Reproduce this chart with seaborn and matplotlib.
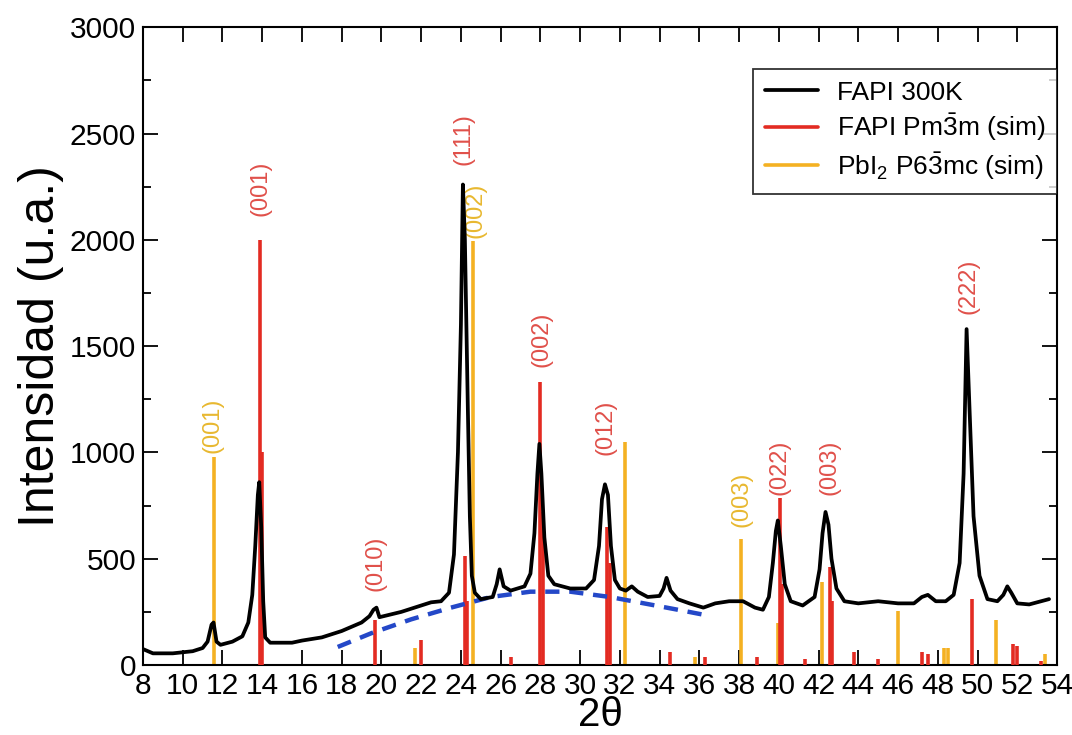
import numpy as np
import pandas as pd
import matplotlib
matplotlib.use("Agg")
import matplotlib.pyplot as plt
import seaborn as sns
from matplotlib.lines import Line2D
from matplotlib.ticker import MultipleLocator

# measured pattern FAPI 300K (2theta, intensity)
exp_2theta = [8.0, 8.5, 9.5, 10.5, 11.0, 11.25, 11.45, 11.55, 11.7, 11.9, 12.5, 13.0, 13.3, 13.5,
              13.65, 13.78, 13.85, 13.95, 14.05, 14.15, 14.4, 15.5, 16.0, 17.0, 18.0, 19.0,
              19.4, 19.6, 19.75, 19.9, 21.0, 22.0, 22.5, 23.0, 23.4, 23.65, 23.85, 24.0, 24.1,
              24.2, 24.35, 24.45, 24.55, 24.7, 25.0, 25.6, 25.8, 25.95, 26.15, 26.5, 27.2,
              27.5, 27.7, 27.85, 27.95, 28.05, 28.2, 28.4, 28.7, 29.5, 30.3, 30.7, 30.95,
              31.1, 31.25, 31.4, 31.55, 31.75, 32.0, 32.3, 32.6, 32.9, 33.4, 34.0, 34.2,
              34.35, 34.55, 34.9, 35.5, 36.2, 36.8, 37.5, 38.2, 38.8, 39.2, 39.5, 39.7,
              39.85, 39.95, 40.1, 40.3, 40.6, 41.2, 41.8, 42.05, 42.2, 42.35, 42.5, 42.65,
              42.9, 43.3, 44.0, 45.0, 46.0, 46.8, 47.2, 47.5, 47.9, 48.4, 48.8, 49.1, 49.3,
              49.45, 49.6, 49.8, 50.1, 50.5, 51.0, 51.3, 51.5, 51.7, 52.0, 52.6, 53.2, 53.6]
exp_intensity = [75, 55, 55, 65, 80, 110, 190, 200, 110, 95, 110, 135, 200, 330,
                 560, 800, 860, 650, 300, 130, 105, 105, 115, 130, 160, 200,
                 230, 260, 270, 225, 250, 280, 295, 300, 340, 520, 1000, 1600, 2260,
                 2000, 1200, 700, 420, 340, 310, 320, 380, 450, 370, 350, 370,
                 430, 620, 900, 1040, 900, 600, 420, 380, 360, 360, 400, 560,
                 780, 850, 800, 560, 400, 360, 350, 370, 345, 320, 325, 360,
                 410, 350, 310, 290, 270, 290, 300, 300, 270, 260, 320, 480,
                 630, 680, 560, 380, 300, 280, 320, 450, 620, 720, 660, 500,
                 360, 300, 290, 300, 290, 290, 320, 330, 300, 300, 330, 480, 900,
                 1580, 1200, 700, 420, 310, 300, 330, 370, 340, 290, 285, 300, 310]

# amorphous background guide (blue dashed)
bg_2theta = [17.8, 19.5, 21.5, 23.5, 25.5, 27.5, 29.5, 31.5, 33.5, 35.2, 36.3]
bg_intensity = [85, 150, 215, 270, 320, 345, 345, 320, 285, 255, 235]

# simulated FAPI Pm-3m sticks
fapi_pos = [13.9, 14.0, 19.7, 22.0, 24.2, 24.3, 26.5, 28.0, 28.15, 31.35, 31.5, 34.5, 36.3,
            38.9, 40.05, 40.15, 41.3, 42.6, 42.7, 43.8, 45.0, 47.2, 47.5, 49.7, 51.8, 52.0, 53.2]
fapi_int = [2000, 1000, 210, 120, 515, 300, 40, 1330, 720, 650, 480, 60, 40,
            40, 785, 380, 30, 460, 300, 60, 30, 60, 50, 310, 100, 90, 20]

# simulated PbI2 P63mc sticks
pbi2_pos = [11.55, 21.7, 24.6, 32.25, 35.8, 38.1, 39.95, 42.15, 46.0, 48.3, 48.5, 50.95, 53.4]
pbi2_int = [980, 80, 2000, 1050, 40, 595, 200, 390, 255, 80, 80, 210, 50]

# reflection labels: (text, 2theta, intensity at label base, colour key)
labels = [("(001)", 11.5, 995, "y"), ("(001)", 13.9, 2110, "r"), ("(010)", 19.7, 350, "r"),
          ("(111)", 24.15, 2350, "r"), ("(002)", 24.75, 2010, "y"), ("(002)", 28.05, 1400, "r"),
          ("(012)", 31.3, 990, "r"), ("(003)", 38.1, 650, "y"), ("(022)", 40.05, 800, "r"),
          ("(003)", 42.55, 800, "r"), ("(222)", 49.55, 1650, "r")]

RED = "#e32b22"
YELLOW = "#f4b122"
RED_TXT = "#e0504a"
YEL_TXT = "#e8b830"

sns.set_theme(style="ticks")
plt.rcParams["font.family"] = ["Liberation Sans", "DejaVu Sans"]
plt.rcParams["mathtext.fontset"] = "custom"
plt.rcParams["mathtext.rm"] = "Liberation Sans"
for key in ["text.color", "axes.labelcolor", "xtick.color", "ytick.color"]:
    plt.rcParams[key] = "black"

fig = plt.figure(figsize=(10.72, 7.35), dpi=100)
ax = fig.add_axes([0.1334, 0.0952, 0.8526, 0.8678])

ax.vlines(pbi2_pos, 0, pbi2_int, color=YELLOW, lw=2.6, zorder=2)
ax.vlines(fapi_pos, 0, fapi_int, color=RED, lw=2.6, zorder=3)

exp_df = pd.DataFrame({"2theta": exp_2theta, "I": exp_intensity})
sns.lineplot(data=exp_df, x="2theta", y="I", color="black", lw=2.7, ax=ax, zorder=6,
             sort=False, estimator=None)
bg_df = pd.DataFrame({"2theta": bg_2theta, "I": bg_intensity})
sns.lineplot(data=bg_df, x="2theta", y="I", color="#2448c8", lw=3.2, ax=ax, zorder=5,
             sort=False, estimator=None, dashes=False, linestyle=(0, (3.2, 2.2)))

for txt, xpos, ypos, key in labels:
    ax.text(xpos, ypos, txt, rotation=90, ha="center", va="bottom", fontsize=17,
            color=RED_TXT if key == "r" else YEL_TXT, zorder=4,
            bbox=dict(boxstyle="square,pad=0.12", fc="white", ec="none"))

ax.set_xlim(8, 54)
ax.set_ylim(0, 3000)
ax.xaxis.set_major_locator(MultipleLocator(2))
ax.yaxis.set_major_locator(MultipleLocator(500))
ax.yaxis.set_minor_locator(MultipleLocator(250))
ax.tick_params(axis="both", which="major", direction="in", length=11, width=1.3,
               labelsize=21.5, top=True, right=True, pad=5)
ax.tick_params(axis="both", which="minor", direction="in", length=6, width=1.3,
               top=True, right=True)
for sp in ax.spines.values():
    sp.set_linewidth(1.5)
    sp.set_color("black")

ax.set_xlabel("2θ", fontsize=29, labelpad=-3)
ax.set_ylabel("Intensidad (u.a.)", fontsize=36, labelpad=4)

handles = [Line2D([], [], color="black", lw=2.7),
           Line2D([], [], color=RED, lw=2.6),
           Line2D([], [], color=YELLOW, lw=2.6)]
names = ["FAPI 300K", r"FAPI Pm$\bar{3}$m (sim)", r"PbI$_2$ P6$\bar{3}$mc (sim)"]
leg = ax.legend(handles, names, loc="upper right", bbox_to_anchor=(1.0, 0.935),
                fontsize=19, frameon=True, fancybox=False, borderpad=0.45,
                handlelength=2.0, labelspacing=0.25, borderaxespad=0.0, handletextpad=0.7)
leg.get_frame().set_edgecolor("black")
leg.get_frame().set_linewidth(1.3)
leg.set_zorder(10)

fig.savefig("out.png", dpi=100)
